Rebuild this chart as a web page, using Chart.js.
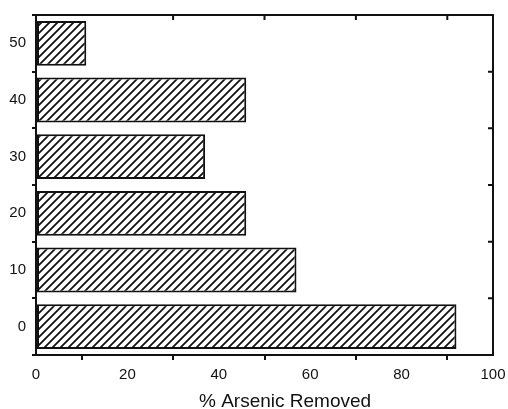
<!DOCTYPE html>
<html>
<head>
<meta charset="utf-8">
<script src="https://cdn.jsdelivr.net/npm/chart.js@4/dist/chart.umd.min.js"></script>
<style>
  html, body { margin: 0; padding: 0; background: #fff; }
  #wrap { width: 508px; height: 409px; }
</style>
</head>
<body>
<div id="wrap"><canvas id="arsenicChart"></canvas></div>
<script>
// Data
const categories = ['0', '10', '20', '30', '40', '50'];
const removed = [92, 57, 46, 37, 46, 11];
const xTickLabels = [0, 20, 40, 60, 80, 100];
const xTickMarks = [10, 30, 50, 70, 90];
const topTickMarks = [30, 50, 70, 90];
const xTitle = '% Arsenic Removed';

const FONT = 'Liberation Sans, Arial, sans-serif';

// Diagonal hatch fill
function makeHatch() {
    const size = 8;
    const c = document.createElement('canvas');
    c.width = size;
    c.height = size;
    const g = c.getContext('2d');
    g.fillStyle = '#fff';
    g.fillRect(0, 0, size, size);
    g.strokeStyle = '#111';
    g.lineWidth = 1.8;
    g.beginPath();
    g.moveTo(-2, size + 2);
    g.lineTo(size + 2, -2);
    g.moveTo(-2, 2);
    g.lineTo(2, -2);
    g.moveTo(size - 2, size + 2);
    g.lineTo(size + 2, size - 2);
    g.stroke();
    return g.createPattern(c, 'repeat');
}

// Frame: top and right borders with inward tick marks, plus the axis title
const framePlugin = {
    id: 'frame',
    afterDatasetsDraw(chart) {
        const { ctx, chartArea: a, scales } = chart;
        ctx.save();
        ctx.strokeStyle = '#111';
        ctx.lineWidth = 2;
        ctx.beginPath();
        ctx.moveTo(a.left, a.top);
        ctx.lineTo(a.right, a.top);
        ctx.lineTo(a.right, a.bottom);
        ctx.stroke();
        ctx.beginPath();
        topTickMarks.forEach(v => {
            const x = scales.x.getPixelForValue(v);
            ctx.moveTo(x, a.top);
            ctx.lineTo(x, a.top + 5);
        });
        for (let i = 0; i < categories.length - 1; i++) {
            const y = (scales.y.getPixelForValue(i) + scales.y.getPixelForValue(i + 1)) / 2;
            ctx.moveTo(a.right, y);
            ctx.lineTo(a.right - 5, y);
        }
        ctx.stroke();

        // x title sits a little right of centre in the original
        ctx.fillStyle = '#111';
        ctx.font = '19px ' + FONT;
        ctx.textAlign = 'center';
        ctx.textBaseline = 'alphabetic';
        ctx.fillText(xTitle, a.left + (a.right - a.left) * 0.545, chart.height - 2);
        ctx.restore();
    }
};

const ctx = document.getElementById('arsenicChart');
new Chart(ctx, {
    type: 'bar',
    data: {
        labels: categories,
        datasets: [{
            data: removed,
            backgroundColor: makeHatch(),
            borderColor: '#111',
            borderWidth: 2,
            borderSkipped: false,
            categoryPercentage: 1,
            barPercentage: 0.79
        }]
    },
    options: {
        indexAxis: 'y',
        responsive: true,
        maintainAspectRatio: false,
        animation: false,
        layout: {
            padding: { top: 13, right: 15, left: 0, bottom: 19 }
        },
        plugins: {
            legend: { display: false },
            tooltip: { enabled: false }
        },
        scales: {
            x: {
                type: 'linear',
                min: 0,
                max: 100,
                afterBuildTicks(scale) {
                    scale.ticks = xTickLabels.concat(xTickMarks)
                        .sort((a, b) => a - b)
                        .map(v => ({ value: v }));
                },
                afterFit(scale) {
                    scale.paddingRight = 0;
                    scale.paddingLeft = 0;
                },
                ticks: {
                    color: '#111',
                    font: { family: FONT, size: 15 },
                    padding: 6,
                    maxRotation: 0,
                    autoSkip: false,
                    callback: v => (xTickLabels.includes(v) ? String(v) : '')
                },
                grid: {
                    drawOnChartArea: false,
                    tickLength: 5,
                    lineWidth: 2,
                    color: c => (c.tick && xTickMarks.includes(c.tick.value) ? '#111' : 'rgba(0,0,0,0)')
                },
                border: { color: '#111', width: 2 }
            },
            y: {
                reverse: true,
                afterFit(scale) { scale.width = 36; },
                ticks: {
                    color: '#111',
                    font: { family: FONT, size: 15 },
                    padding: 6
                },
                grid: {
                    drawOnChartArea: false,
                    offset: true,
                    tickLength: 4,
                    lineWidth: 2,
                    color: '#111'
                },
                border: { color: '#111', width: 2 }
            }
        }
    },
    plugins: [framePlugin]
});
</script>
</body>
</html>
